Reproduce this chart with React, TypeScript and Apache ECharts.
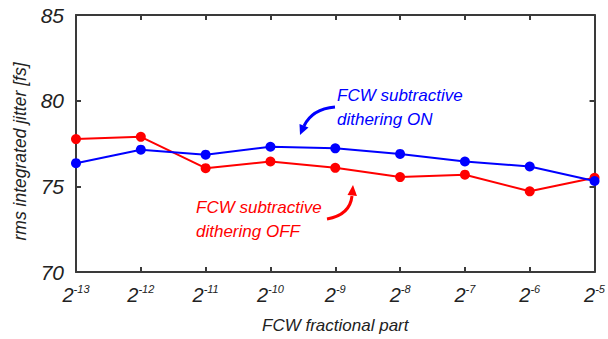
import React, { useEffect, useRef } from "react";
import * as echarts from "echarts";

const exponents = [-13, -12, -11, -10, -9, -8, -7, -6, -5];
const ditherOff = [77.76, 77.89, 76.06, 76.45, 76.08, 75.54, 75.68, 74.71, 75.5];
const ditherOn = [76.35, 77.14, 76.85, 77.31, 77.22, 76.89, 76.45, 76.16, 75.31];
const yTicks = [70, 75, 80, 85];

const FONT = '"Liberation Sans", Arial, sans-serif';
const AXIS_COLOR = "#3a3a3a";
const RED = "#ff0000";
const BLUE = "#0000ff";

export default function App() {
  const ref = useRef<HTMLDivElement>(null);
  useEffect(() => {
    if (!ref.current) return;
    const chart = echarts.init(ref.current, null, { renderer: "svg" });
    const axisBase = {
      axisLine: { show: true, lineStyle: { color: AXIS_COLOR, width: 2 } },
      axisTick: { show: true, inside: true, length: 5, lineStyle: { color: AXIS_COLOR, width: 2 } },
      splitLine: { show: false },
    };
    chart.setOption({
      animation: false,
      backgroundColor: "#ffffff",
      grid: { left: 76, right: 13, top: 15, bottom: 65 },
      xAxis: [
        {
          type: "value",
          min: exponents[0],
          max: exponents[exponents.length - 1],
          interval: 1,
          ...axisBase,
          axisLabel: {
            margin: 11,
            formatter: (v: number) => `{b|2}{s|${v}}`,
            rich: {
              b: { fontSize: 20, fontStyle: "italic", fontFamily: FONT, color: "#222" },
              s: { fontSize: 11, fontStyle: "italic", fontFamily: FONT, color: "#222", padding: [0, 0, 12, 0] },
            },
          },
          name: "FCW fractional part",
          nameLocation: "middle",
          nameGap: 45,
          nameTextStyle: { fontSize: 17, fontStyle: "italic", fontFamily: FONT, color: "#222" },
        },
        {
          type: "value",
          position: "top",
          min: exponents[0],
          max: exponents[exponents.length - 1],
          interval: 1,
          ...axisBase,
          axisLabel: { show: false },
        },
      ],
      yAxis: [
        {
          type: "value",
          min: yTicks[0],
          max: yTicks[yTicks.length - 1],
          interval: 5,
          ...axisBase,
          axisLabel: {
            margin: 12,
            fontSize: 21,
            fontStyle: "italic",
            fontFamily: FONT,
            color: "#222",
          },
          name: "rms integrated jitter [fs]",
          nameLocation: "middle",
          nameGap: 47,
          nameRotate: 90,
          nameTextStyle: {
            fontSize: 17.5,
            fontStyle: "italic",
            fontFamily: FONT,
            color: "#222",
            padding: [0, 16, 0, 0],
          },
        },
        {
          type: "value",
          position: "right",
          min: yTicks[0],
          max: yTicks[yTicks.length - 1],
          interval: 5,
          ...axisBase,
          axisLabel: { show: false },
        },
      ],
      series: [
        {
          type: "line",
          name: "dithering OFF",
          data: exponents.map((e, i) => [e, ditherOff[i]]),
          symbol: "circle",
          symbolSize: 10,
          lineStyle: { color: RED, width: 2 },
          itemStyle: { color: RED },
          z: 2,
        },
        {
          type: "line",
          name: "dithering ON",
          data: exponents.map((e, i) => [e, ditherOn[i]]),
          symbol: "circle",
          symbolSize: 10,
          lineStyle: { color: BLUE, width: 2 },
          itemStyle: { color: BLUE },
          z: 3,
        },
      ],
      graphic: [
        {
          type: "text",
          left: 337,
          top: 83,
          style: {
            text: "FCW subtractive\ndithering ON",
            fill: BLUE,
            font: `italic 17px ${FONT}`,
            lineHeight: 24,
            align: "center",
          },
        },
        {
          type: "text",
          left: 196,
          top: 195,
          style: {
            text: "FCW subtractive\ndithering OFF",
            fill: RED,
            font: `italic 17px ${FONT}`,
            lineHeight: 24,
            align: "center",
          },
        },
        {
          type: "bezierCurve",
          shape: { x1: 335, y1: 107, cpx1: 312, cpy1: 109, x2: 304, y2: 126 },
          style: { stroke: BLUE, lineWidth: 3, fill: "none" },
        },
        {
          type: "polygon",
          shape: { points: [[300, 135], [308.5, 127.5], [299.5, 124]] },
          style: { fill: BLUE },
        },
        {
          type: "bezierCurve",
          shape: { x1: 327, y1: 219, cpx1: 350, cpy1: 215, x2: 352, y2: 196 },
          style: { stroke: RED, lineWidth: 3, fill: "none" },
        },
        {
          type: "polygon",
          shape: { points: [[353, 185], [357, 196], [347.5, 195]] },
          style: { fill: RED },
        },
      ],
    });
    return () => chart.dispose();
  }, []);
  return <div ref={ref} style={{ width: 608, height: 339, position: "absolute", left: 0, top: 0 }} />;
}
